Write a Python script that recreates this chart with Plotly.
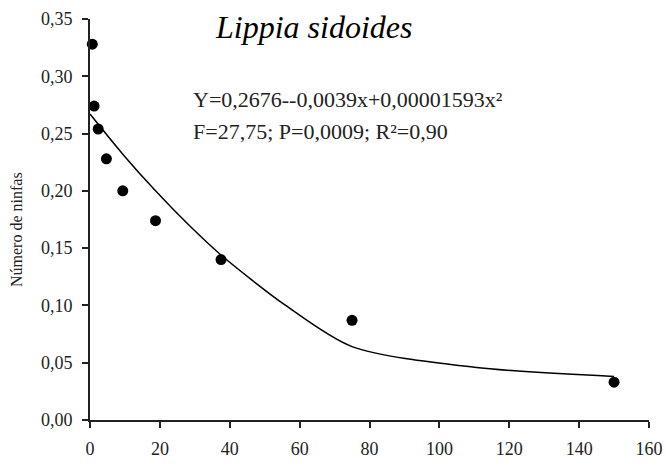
import plotly.graph_objects as go

# observed data (dose vs number of nymphs)
dose = [0.66, 1.17, 2.34, 4.69, 9.38, 18.75, 37.5, 75, 150]
ninfas = [0.328, 0.274, 0.254, 0.228, 0.200, 0.174, 0.140, 0.087, 0.033]

# fitted curve
fit_x = [0, 9.38, 18.75, 28, 37.5, 56, 75, 110, 150]
fit_y = [0.267, 0.232, 0.200, 0.171, 0.144, 0.100, 0.064, 0.046, 0.038]

title_text = "Lippia sidoides"
eq_line1 = "Y=0,2676--0,0039x+0,00001593x²"
eq_line2 = "F=27,75; P=0,0009; R²=0,90"
y_label = "Número de ninfas"
x_ticks = [0, 20, 40, 60, 80, 100, 120, 140, 160]
y_ticks = [0.00, 0.05, 0.10, 0.15, 0.20, 0.25, 0.30, 0.35]

font = "Liberation Serif"
ink = "#222"

fig = go.Figure()
fig.add_trace(go.Scatter(x=fit_x, y=fit_y, mode="lines",
                         line=dict(color="black", width=1.5, shape="spline", smoothing=0.8),
                         showlegend=False, hoverinfo="skip", cliponaxis=False))
fig.add_trace(go.Scatter(x=dose, y=ninfas, mode="markers",
                         marker=dict(color="black", size=11),
                         showlegend=False, cliponaxis=False))

axis_common = dict(showgrid=False, zeroline=False, automargin=False,
                   showline=True, linecolor=ink, linewidth=2,
                   ticks="outside", ticklen=6, tickcolor=ink, tickwidth=2,
                   tickfont=dict(size=18, family=font, color=ink))

fig.update_layout(
    width=666, height=466,
    margin=dict(l=90, r=17, t=19, b=46),
    paper_bgcolor="white", plot_bgcolor="white",
    separators=",.",
    font=dict(family=font, size=18, color=ink),
    xaxis=dict(range=[0, 160], tickvals=x_ticks, ticklabelstandoff=5, **axis_common),
    yaxis=dict(range=[0, 0.35], tickvals=y_ticks, tickformat=".2f", ticklabelstandoff=6, **axis_common),
    annotations=[
        dict(text="<i>" + title_text + "</i>", x=(313 - 90) / 559, y=(420 - 27) / 401,
             xref="paper", yref="paper",
             xanchor="center", yanchor="middle", showarrow=False,
             font=dict(size=32, family=font, color="black")),
        dict(text=eq_line1, x=(191 - 90) / 559, y=(420 - 99) / 401, xref="paper", yref="paper",
             xanchor="left", yanchor="middle", showarrow=False,
             font=dict(size=22, family=font, color=ink)),
        dict(text=eq_line2, x=(191 - 90) / 559, y=(420 - 131) / 401, xref="paper", yref="paper",
             xanchor="left", yanchor="middle", showarrow=False,
             font=dict(size=22, family=font, color=ink)),
        dict(text=y_label, x=(16 - 90) / 559, y=(420 - 230) / 401, xref="paper", yref="paper",
             xanchor="center", yanchor="middle", showarrow=False, textangle=-90,
             font=dict(size=16, family=font, color=ink)),
    ],
)

fig.write_html("out.html")
